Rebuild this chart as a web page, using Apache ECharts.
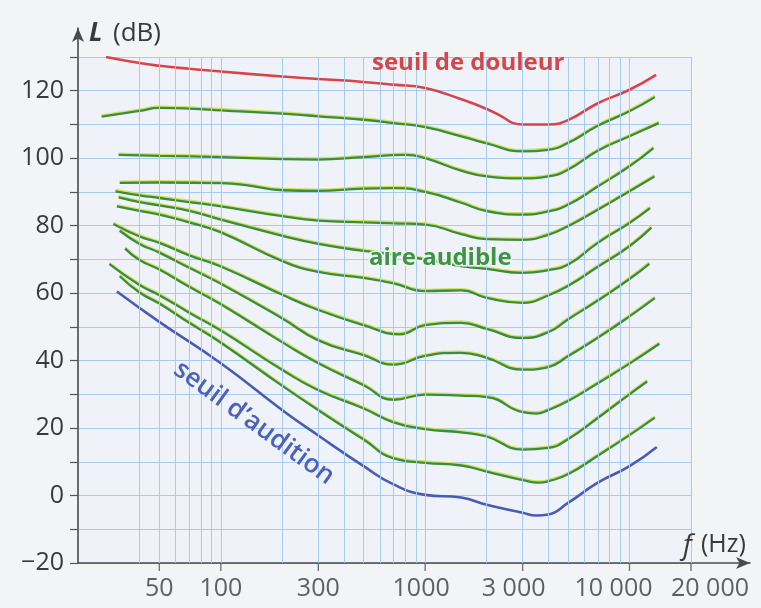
<!DOCTYPE html>
<html><head><meta charset="utf-8">
<script src="https://cdn.jsdelivr.net/npm/echarts@6/dist/echarts.min.js"></script>
<style>html,body{margin:0;padding:0;background:#f3f4f6}#c{width:761px;height:608px}</style>
</head><body><div id="c"></div>
<script>
// ---------- data ----------
const xTicks = [50, 100, 300, 1000, 3000, 10000, 20000];
const xTickLabels = ['50', '100', '300', '1000', '3 000', '10 000', '20 000'];
const yTickLabels = [-20, 0, 20, 40, 60, 80, 100, 120];
const vGrid = [40,50,60,70,80,90,100,200,300,400,500,600,700,800,900,1000,2000,3000,4000,5000,6000,7000,8000,9000,10000,20000];

// [frequency (Hz), level (dB)]
const seuilDouleur = [[27.4,130],[40,128.2],[50,127.4],[70,126.5],[100,125.7],[200,124.2],[300,123.5],[500,122.6],[700,121.8],[1000,120.8],[1500,117.5],[2000,114.6],[2400,112.2],[2700,110.4],[3000,110],[4000,110],[5000,111.3],[7000,116.3],[10000,120.3],[13500,124.7]];
const phon110 = [[26.1,112.3],[40,114],[50,114.9],[70,114.7],[100,114.2],[200,113.2],[300,112.4],[500,111.4],[700,110.4],[1000,109.2],[1500,106.5],[2000,104.4],[3000,102],[4000,102.5],[5000,104.5],[7000,109.6],[10000,113.9],[13300,118.1]];
const phon100 = [[31.6,101],[50,100.7],[100,100.3],[200,99.7],[300,99.6],[500,100.3],[800,101],[1000,100],[1500,96.3],[2000,94.6],[3000,94],[4000,94.6],[5000,96.6],[7000,102.2],[10000,106.5],[13900,110.4]];
const phon90 = [[32,92.7],[50,92.8],[100,92.6],[130,92.1],[200,90.5],[300,90.3],[500,91],[700,91.1],[1000,90],[1500,86.8],[2000,84.3],[3000,83.3],[4000,84.2],[5000,86.2],[7000,91.6],[10000,97.6],[13100,103]];
const phon80 = [[30.5,90.2],[40,89],[50,88.2],[70,87],[100,85.7],[200,82.8],[300,81.5],[500,81],[700,80.7],[1000,80.3],[1500,77.5],[2000,76],[3000,75.8],[4000,77.3],[5000,79.8],[7000,84.7],[10000,90.2],[13250,94.6]];
const phon70 = [[31.6,88.4],[40,87],[50,86],[70,84.4],[100,81.8],[200,77],[300,74.6],[500,72.5],[700,71.4],[1000,70],[1500,68],[2000,67.2],[3000,66],[4000,66.8],[5000,68.4],[7000,74.9],[10000,80.8],[12600,85.2]];
const phon60 = [[31,85.7],[40,84.4],[50,83.3],[70,81],[100,78],[200,69.5],[300,66.3],[500,64.5],[700,62.9],[1000,60.6],[1500,60.8],[2000,58.6],[3000,57.1],[4000,59.3],[5000,62.1],[7000,67.8],[10000,73.9],[12800,79.4]];
const phon50 = [[29.8,80.5],[40,76.8],[50,74.9],[70,71.2],[100,67.9],[200,59.5],[300,55],[500,50.5],[750,47.8],[1000,50.5],[1500,51.2],[2000,49.4],[3000,46.7],[4000,48.4],[5000,52.2],[7000,57.8],[10000,64.2],[12500,68.7]];
const phon40 = [[32,78.5],[40,74.6],[50,72],[70,67.5],[100,62.8],[200,52.5],[300,46],[500,41.6],[700,38.8],[1000,41.4],[1500,42.3],[2000,40.8],[3000,37.3],[4000,38.1],[5000,41.3],[7000,46.8],[10000,53.1],[13300,58.5]];
const phon30 = [[34,73.2],[40,69.8],[50,67],[70,61.9],[100,56.7],[200,45.4],[300,39.2],[500,32.7],[700,28.4],[1000,29.9],[1500,29.6],[2000,29.2],[3000,24.7],[3500,24.3],[4000,25.3],[5000,28],[7000,33.3],[10000,39.1],[14000,45]];
const phon20 = [[28.5,68.6],[40,62.4],[50,59.4],[70,54.2],[100,48.9],[200,37.2],[300,31.2],[500,25.8],[700,21.7],[1000,19.7],[1500,18.7],[2000,17.5],[3000,13.6],[4000,14.1],[5000,16.7],[7000,23],[10000,30],[12200,33.8]];
const phon10 = [[32,65],[40,60.2],[50,56.9],[70,51.2],[100,45.3],[200,32.5],[300,25.3],[500,16.6],[700,11],[1000,9.7],[1500,8.9],[2000,7.1],[3000,4.6],[3600,3.8],[4000,4.2],[5000,6.3],[7000,11.8],[10000,17.9],[13300,23.1]];
const seuilAudition = [[31,60.5],[50,51.5],[100,39.2],[200,25.3],[300,17.8],[500,8.7],[700,3.3],[1000,0.2],[1500,-0.6],[2000,-2.7],[3000,-5.1],[3500,-5.9],[4000,-5.6],[5000,-2.2],[7000,3.8],[10000,8.7],[13600,14.4]];

const greenCurves = [phon110, phon100, phon90, phon80, phon70, phon60, phon50, phon40, phon30, phon20, phon10];

// ---------- style ----------
const FONT = "'Open Sans', 'DejaVu Sans', sans-serif";
const TXT = '#3a3a3a';
const GRIDC = '#a6cbee';
const xLabelDx = [0, 0, 0, -4, -9, -16, 19];

function curve(name, data, color, width, glow) {
  return {
    type: 'line', name, data, xAxisIndex: 0, yAxisIndex: 0,
    smooth: 0.5, symbol: 'none', silent: true, z: 3,
    lineStyle: {
      color, width,
      shadowColor: glow ? 'rgba(205,225,85,0.95)' : 'rgba(0,0,0,0)',
      shadowBlur: 0, shadowOffsetY: glow ? -1.3 : 0
    }
  };
}

const series = [
  {
    type: 'line', xAxisIndex: 0, yAxisIndex: 0, data: [[20, -20]], symbol: 'none', z: 1,
    lineStyle: { opacity: 0 }, silent: true,
    markLine: {
      silent: true, symbol: ['none', 'none'], label: { show: false }, animation: false,
      lineStyle: { color: GRIDC, width: 1, type: 'solid' },
      data: vGrid.map(v => ({ xAxis: v }))
    }
  },
  curve('seuil de douleur', seuilDouleur, '#d6454a', 2.6, false),
  ...greenCurves.map((d, i) => curve('c' + i, d, '#3c8b3f', 2.3, true)),
  curve("seuil d'audition", seuilAudition, '#4a5bb3', 2.6, false),
  {
    type: 'scatter', xAxisIndex: 0, yAxisIndex: 0, clip: false, silent: true, z: 10,
    data: xTicks.map((v, i) => ({ value: [v, -20], label: { offset: [xLabelDx[i], 0] } })),
    symbol: 'rect', symbolSize: [1.4, 8], symbolOffset: [0, 4],
    itemStyle: { color: '#555' },
    label: {
      show: true, position: 'bottom', distance: 5,
      formatter: p => xTickLabels[p.dataIndex],
      fontSize: 25, color: TXT, fontFamily: FONT
    }
  }
];

const option = {
  backgroundColor: '#f3f4f6',
  animation: false,
  grid: [
    { left: 78, right: 70, top: 57, bottom: 45, show: true, backgroundColor: '#eff3f9', borderWidth: 0 },
    { left: 78, right: 11, top: 28, bottom: 45, show: false }
  ],
  xAxis: [
    { type: 'log', logBase: 10, min: 20, max: 20000, gridIndex: 0,
      axisLine: { show: false }, axisTick: { show: false }, axisLabel: { show: false }, splitLine: { show: false } },
    { type: 'value', gridIndex: 1, min: 0, max: 1,
      axisLine: { show: true, symbol: ['none', 'arrow'], symbolSize: [9, 14], lineStyle: { color: '#4a4a4a', width: 1.6 } },
      axisTick: { show: false }, axisLabel: { show: false }, splitLine: { show: false } }
  ],
  yAxis: [
    { type: 'value', gridIndex: 0, min: -20, max: 130, interval: 10,
      axisLine: { show: false },
      axisTick: { show: true, length: 8, lineStyle: { color: '#555', width: 1.2 } },
      axisLabel: {
        show: true, margin: 14, fontSize: 25, color: TXT, fontFamily: FONT,
        formatter: v => yTickLabels.includes(v) ? (v < 0 ? '\u2212' + Math.abs(v) : String(v)) : ''
      },
      splitLine: { show: true, lineStyle: { color: GRIDC, width: 1 } } },
    { type: 'value', gridIndex: 1, min: 0, max: 1,
      axisLine: { show: true, symbol: ['none', 'arrow'], symbolSize: [9, 14], lineStyle: { color: '#4a4a4a', width: 1.6 } },
      axisTick: { show: false }, axisLabel: { show: false }, splitLine: { show: false } }
  ],
  graphic: [
    { type: 'text', x: 89, y: 34, z: 20, style: { text: 'L', fill: TXT, font: `italic bold 26px ${FONT}`, textVerticalAlign: 'middle' } },
    { type: 'text', x: 113, y: 34, z: 20, style: { text: '(dB)', fill: TXT, font: `26px ${FONT}`, textVerticalAlign: 'middle' } },
    { type: 'text', x: 683, y: 546, z: 20, style: { text: 'f', fill: TXT, font: `italic 28px ${FONT}`, textVerticalAlign: 'middle' } },
    { type: 'text', x: 701, y: 545, z: 20, style: { text: '(Hz)', fill: TXT, font: `25px ${FONT}`, textVerticalAlign: 'middle' } },
    { type: 'text', x: 372, y: 63, z: 20, style: { text: 'seuil de douleur', fill: '#d0484b', font: `bold 24px ${FONT}`, textVerticalAlign: 'middle' } },
    { type: 'text', x: 369, y: 258, z: 20, style: { text: 'aire audible', fill: '#3f9443', font: `bold 24px ${FONT}`, textVerticalAlign: 'middle', stroke: '#eff3f9', lineWidth: 3 } },
    { type: 'text', x: 254, y: 423, z: 20, rotation: -36 * Math.PI / 180,
      style: { text: 'seuil d\u2019audition', fill: '#4a63b8', font: `600 26px ${FONT}`, textAlign: 'center', textVerticalAlign: 'middle' } }
  ],
  series
};

const chart = echarts.init(document.getElementById('c'), null, { renderer: 'canvas' });
chart.setOption(option);
</script>
</body></html>
